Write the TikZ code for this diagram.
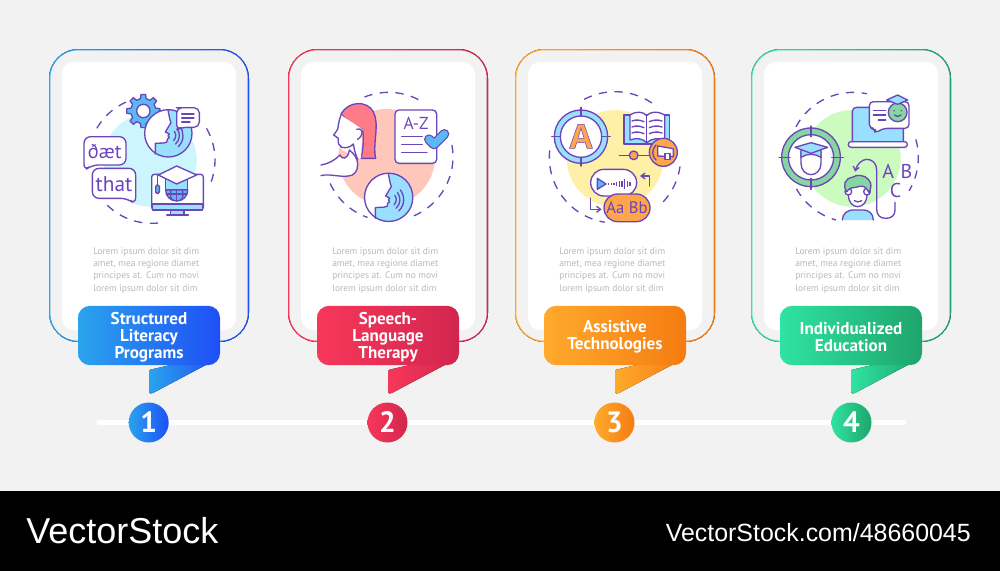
\documentclass[tikz,border=0pt]{standalone}
\usepackage{fontspec}
\setmainfont{PT Sans}
\newfontfamily\logofont{Liberation Sans}
\newfontfamily\iconfont{PT Sans}
\newfontfamily\outlinefont[FakeBold=1.6]{Open Sans}
\usetikzlibrary{arrows.meta,calc}
\definecolor{pagebg}{HTML}{F2F2F2}
\definecolor{lp}{HTML}{6B46B9}
\definecolor{bl}{HTML}{99DFFF}
\definecolor{gearb}{HTML}{5AB8F5}
\definecolor{blobb}{HTML}{CCF5FD}
\definecolor{blobr}{HTML}{FFC6BC}
\definecolor{bloby}{HTML}{FFF0A8}
\definecolor{blobg}{HTML}{CCFBC0}
\definecolor{hair}{HTML}{FF7B87}
\definecolor{org}{HTML}{FFA64D}
\definecolor{grn}{HTML}{86D6A0}
\definecolor{loremc}{HTML}{B9B9B9}
\definecolor{aA}{HTML}{2AA4EC}\definecolor{aB}{HTML}{1F4FF6}
\definecolor{bA}{HTML}{F7375A}\definecolor{bB}{HTML}{D2264F}
\definecolor{cA}{HTML}{FFAA2C}\definecolor{cB}{HTML}{F57C12}
\definecolor{dA}{HTML}{2FE3A2}\definecolor{dB}{HTML}{1EA56C}
\tikzset{
 ic/.style={draw=lp,line width=1pt,line join=round,line cap=round},
 dashc/.style={draw=lp,line width=1pt,dash pattern=on 6.2pt off 5.6pt},
 labelbox/.style={rounded corners=9pt,minimum width=106.5pt,minimum height=44.5pt,inner sep=0pt},
 labeltext/.style={inner sep=0pt,align=center,text=white,font=\bfseries\fontsize{12.8pt}{12.75pt}\selectfont},
 numdot/.style={circle,minimum size=30pt,inner sep=0pt,text=white,font=\bfseries\fontsize{22pt}{24pt}\selectfont},
 lorem/.style={anchor=north west,inner sep=0pt,align=left,text=loremc,font=\fontsize{7.1pt}{9.15pt}\selectfont},
 zoomed/.style={x=0.25pt,y=-0.25pt},
 ictext/.style={text=lp,inner sep=0pt,font=\iconfont}
}
\newcommand{\dasharc}[5]{\draw[dashc] (#1,#2) ++({-(#4)}:#3) arc[start angle={-(#4)},end angle={-(#5)},radius=#3];}
\newcommand{\cardblock}[7]{%
 \fill[left color=#2,right color=#3,rounded corners=22pt] (#4,49) rectangle ++(200,293);
 \fill[pagebg,rounded corners=21pt] (#4+1.3,50.3) rectangle (#4+198.7,340.7);
 \fill[white,rounded corners=9pt] (#4+13,62) rectangle (#4+187,330);
 \node[lorem] (lorem#1) at (#4+44,247.5) {Lorem ipsum dolor sit dim\\amet, mea regione diamet\\principes at. Cum no movi\\lorem ipsum dolor sit dim};
 \fill[left color=#2,right color=#3,rounded corners=1pt] (#4+100,370) -- (#4+126,364) -- (#4+170,358) -- (#4+103,393.5) -- (#4+100,393.5) -- cycle;
 \node[labelbox,left color=#2,right color=#3] (label#1) at (#4+100,335.5) {};
 \node[labeltext] (labeltext#1) at (#4+100,337) {#6};
 \node[numdot,left color=#2,right color=#3] (num#1) at (#4+#5,422.5) {#7};
}
\newcommand{\speechface}[4]{% x y r-scale waves
 \begin{scope}[shift={(#1,#2)},scale=#3]
 \fill[white] (0,0) circle[radius=71];
 \begin{scope}
 \clip (0,0) circle[radius=71];
 \fill[bl] (-1,-72) .. controls (2,-55) and (4,-40) .. (8,-32) -- (-9,-4) -- (3,2) -- (-1,8) -- (3,12) -- (-3,18) .. controls (0,26) and (-6,28) .. (-14,29) -- (-39,30) -- (-39,75) -- (80,75) -- (80,-72) -- cycle;
 \end{scope}
 \draw[ic] (-1,-70) .. controls (2,-55) and (4,-40) .. (8,-32) -- (-9,-4) -- (3,2) -- (-1,8) -- (3,12) -- (-3,18) .. controls (0,26) and (-6,28) .. (-14,29) -- (-39,30) -- (-39,62);
 \draw[ic] (0,0) circle[radius=71];
 \draw[ic] (18,-6) .. controls (24,2) and (24,12) .. (16,22);
 \draw[ic] (26,-14) .. controls (36,0) and (36,18) .. (22,32);
 \draw[ic] (34,-22) .. controls (48,-4) and (48,22) .. (30,40);
 \end{scope}
}
\begin{document}
\begin{tikzpicture}[x=0.75pt,y=-0.75pt]
\useasboundingbox (0,0) rectangle (1000,571);
\fill[pagebg] (0,0) rectangle (1000,491);
\fill[black] (0,491) rectangle (1000,571);
\coordinate (railstart) at (99,422.5);
\coordinate (railend) at (904,422.5);
\draw[white,line width=3.8pt,line cap=round] (railstart) -- (railend);
\cardblock{a}{aA}{aB}{49}{99.7}{Structured\\Literacy\\Programs}{1}
\cardblock{b}{bA}{bB}{288}{99.5}{Speech-\\Language\\Therapy}{2}
\cardblock{c}{cA}{cB}{515}{99.5}{Assistive\\Technologies}{3}
\cardblock{d}{dA}{dB}{751}{100.5}{Individualized\\Education}{4}

% ---------- icon 1
\begin{scope}[shift={(40,40)},zoomed]
 \fill[blobb] (330,360) circle[radius=140];
 \dasharc{335}{360}{190}{114}{153}
 \dasharc{335}{360}{190}{30}{-20}
 \dasharc{335}{360}{190}{225.6}{281}
 \path[ic,fill=gearb,shift={(310,213)}] (-13:38) \foreach \a in {0,45,...,315}{ -- ({\a-13}:38) -- ({\a-8}:50) -- ({\a+8}:50) -- ({\a+13}:38) } -- cycle;
 \draw[ic,fill=white] (310,213) circle[radius=20];
 \speechface{385}{280}{1}{}
 \draw[ic,fill=white,rounded corners=4pt] (425,203) -- (478,203) -- (478,262) -- (425,262) -- (410,270) -- (410,203) -- cycle;
 \draw[ic] (425,222) -- (462,222) (425,234) -- (462,234) (425,246) -- (450,246);
 \draw[ic,fill=white,rounded corners=5pt] (132,290) -- (258,290) -- (258,375) -- (155,375) -- (132,393) -- cycle;
 \node[ictext,font=\iconfont\fontsize{15pt}{16pt}\selectfont] (ipa) at (194,334) {ðæt};
 \draw[ic,fill=white,rounded corners=5pt] (157,385) -- (287,385) -- (287,493) -- (262,475) -- (157,475) -- cycle;
 \node[ictext,font=\iconfont\fontsize{16pt}{18pt}\selectfont] (that) at (222,431) {that};
 % monitor
 \draw[ic,fill=white,rounded corners=2pt] (335,403) rectangle (490,510);
 \draw[ic,fill=bl] (337,492) rectangle (488,510);
 \draw[ic,fill=bl] (392,510) rectangle (432,525);
 \draw[ic] (380,525) -- (445,525);
 \draw[ic,fill=bl] (377,450) -- (377,415) -- (443,415) -- (443,450) -- cycle;
 \draw[ic,fill=gearb] (377,450) -- (443,450) .. controls (443,470) and (428,483) .. (410,483) .. controls (392,483) and (377,470) .. (377,450) -- cycle;
 \draw[ic] (379,462) -- (441,462) (410,450) -- (410,483);
 \draw[ic] (393,450) .. controls (388,465) and (392,478) .. (400,481) (427,450) .. controls (432,465) and (428,478) .. (420,481);
 \draw[ic,fill=white] (410,378) -- (470,405) -- (410,432) -- (355,405) -- cycle;
 \draw[ic] (352,405) -- (352,435);
 \draw[ic,fill=gearb,rounded corners=1pt] (347,435) rectangle (358,460);
\end{scope}

% ---------- icon 2
\begin{scope}[shift={(285,70)},zoomed]
 \fill[blobr] (305,262) circle[radius=145];
 \dasharc{311}{260}{193}{112}{58}
 \dasharc{311}{260}{193}{10.5}{-68.7}
 \dasharc{311}{260}{193}{204.6}{250.8}
 \draw[ic,fill=hair] (168,132) .. controls (190,93) and (245,90) .. (265,125) .. controls (285,165) and (262,220) .. (272,265) -- (228,265) .. controls (234,240) and (238,200) .. (232,178) .. controls (215,175) and (195,160) .. (168,132) -- cycle;
 \fill[white] (168,135) -- (232,178) -- (228,265) -- (215,265) -- (170,238) -- (146,195) -- cycle;
 \draw[ic,fill=white] (168,135) .. controls (160,155) and (160,170) .. (158,178) -- (146,195) -- (160,205) .. controls (158,220) and (162,228) .. (170,232) .. controls (185,235) and (195,232) .. (205,222) .. controls (208,240) and (212,255) .. (218,268);
 \draw[ic] (215,178) .. controls (235,172) and (238,195) .. (218,208);
 \draw[ic,fill=white] (108,285) .. controls (130,282) and (150,270) .. (165,255) .. controls (170,268) and (188,272) .. (193,240) .. controls (205,250) and (218,262) .. (218,285) .. controls (218,305) and (205,318) .. (190,318) .. controls (165,322) and (130,310) .. (108,317);
 \draw[ic,fill=white,rounded corners=3pt] (330,120) rectangle (455,280);
 \node[ictext,font=\iconfont\fontsize{13pt}{14pt}\selectfont] (az) at (393,160) {A-Z};
 \draw[ic] (350,200) -- (412,200) (350,224) -- (412,224) (350,248) -- (426,248);
 \draw[draw=lp,line width=7.5pt,line cap=round,line join=round] (432,208) -- (447,223) -- (478,192);
 \draw[draw=gearb,line width=5.5pt,line cap=round,line join=round] (432,208) -- (447,223) -- (478,192);
 \speechface{311}{382}{1.02}{}
\end{scope}

% ---------- icon 3
\begin{scope}[shift={(530,70)},zoomed]
 \fill[bloby] (255,265) circle[radius=145];
 \dasharc{255}{262}{197}{118}{52.6}
 \dasharc{255}{262}{197}{174}{261}
 \dasharc{255}{262}{197}{-8}{-49}
 \draw[ic,fill=bl] (153,200) circle[radius=80];
 \draw[ic,fill=white] (153,200) circle[radius=62];
 \draw[ic] (153,112) -- (153,138) (153,262) -- (153,288) (65,200) -- (91,200) (215,200) -- (241,200);
 \node[inner sep=0pt] (biga) at (153,199) {\outlinefont\bfseries\fontsize{25pt}{25pt}\selectfont\special{pdf:bcolor [1 0.65 0.3] [0.42 0.275 0.725]}A\special{pdf:ecolor}};
 % book
 \draw[ic,fill=bl] (282,135) -- (418,135) -- (418,222) -- (282,222) -- cycle;
 \draw[ic,fill=white] (300,135) .. controls (320,122) and (340,125) .. (350,137) .. controls (360,125) and (382,122) .. (404,135) -- (404,210) .. controls (385,203) and (365,205) .. (350,218) .. controls (338,205) and (318,203) .. (300,210) -- cycle;
 \draw[ic] (350,137) -- (350,218);
 \draw[ic] (306,153) .. controls (318,148) and (330,150) .. (342,155) (306,171) .. controls (318,166) and (330,168) .. (342,173) (306,189) .. controls (318,184) and (330,186) .. (342,191);
 \draw[ic] (358,155) .. controls (370,150) and (382,148) .. (396,153) (358,173) .. controls (370,168) and (382,166) .. (396,171) (358,191) .. controls (370,186) and (382,184) .. (396,189);
 \draw[ic] (268,256) -- (360,256);
 \draw[ic,fill=org] (311,256) circle[radius=13];
 \draw[ic,fill=org] (400,247) circle[radius=42];
 \draw[ic] (378,225) .. controls (365,238) and (365,258) .. (378,270);
 \draw[ic,fill=white] (383,228) -- (430,236) -- (430,260) -- (383,258) -- cycle;
 \draw[ic,fill=white] (405,250) rectangle (420,268);
 % pills
 \draw[ic,fill=white,rounded corners=10pt] (182,298) rectangle (320,378);
 \draw[ic,fill=gearb] (202,325) -- (228,342) -- (202,358) -- cycle;
 \foreach \bx/\bh in {236/2,244/3,252/4,260/5,268/8,276/10,284/14,292/8,300/5}{
   \draw[draw=lp,line width=1pt] (\bx,342-\bh) -- (\bx,342+\bh);
 }
 \draw[ic,-{Straight Barb[length=3pt,width=4.5pt]}] (358,348) -- (358,318) -- (330,318);
 \draw[ic,fill=org,rounded corners=10.3pt] (222,372) rectangle (360,455);
 \node[ictext,font=\iconfont\fontsize{12.5pt}{14pt}\selectfont] (aabb) at (291,414) {Aa Bb};
 \draw[ic,-{Straight Barb[length=3pt,width=4.5pt]}] (182,385) -- (182,418) -- (215,418);
\end{scope}

% ---------- icon 4
\begin{scope}[shift={(765,70)},zoomed]
 \fill[blobg] (262,265) circle[radius=145];
 \dasharc{265}{262}{195}{152}{78}
 \dasharc{265}{262}{195}{16}{-31}
 \dasharc{265}{262}{195}{209}{254.6}
 \draw[ic,fill=grn] (138,262) circle[radius=88];
 \draw[ic,fill=white] (138,262) circle[radius=68];
 \draw[ic] (138,168) -- (138,200) (138,325) -- (138,358) (42,262) -- (75,262) (200,262) -- (235,262);
 \draw[ic,fill=white] (108,245) -- (108,280) .. controls (108,300) and (122,314) .. (138,314) .. controls (154,314) and (168,300) .. (168,280) -- (168,245) -- cycle;
 \draw[ic,fill=bl] (108,240) -- (108,262) .. controls (125,250) and (150,250) .. (168,262) -- (168,240) -- cycle;
 \draw[ic,fill=bl] (90,232) -- (138,218) -- (188,232) -- (138,250) -- cycle;
 % laptop
 \draw[ic,fill=bl,rounded corners=3pt] (262,215) -- (262,112) -- (415,112) -- (415,215);
 \draw[ic,fill=white,rounded corners=2pt] (250,215) rectangle (427,232);
 \draw[ic,fill=white,rounded corners=3pt] (313,95) -- (432,95) -- (432,175) -- (355,175) -- (330,190) -- (330,175) -- (313,175) -- cycle;
 \draw[ic] (325,122) -- (362,122) (325,135) -- (362,135) (340,150) -- (362,150);
 \draw[ic,fill=grn] (398,127) circle[radius=28];
 \draw[ic] (388,135) .. controls (393,141) and (403,141) .. (408,135);
 \fill[lp] (387,122) circle[radius=2.5] (409,122) circle[radius=2.5];
 \draw[ic,fill=bl] (365,90) -- (398,75) -- (428,90) -- (398,103) -- cycle;
 % boy
 \draw[ic,fill=bl] (232,450) .. controls (232,430) and (250,420) .. (262,420) -- (296,420) .. controls (310,420) and (325,430) .. (325,450);
 \draw[ic,fill=white] (250,375) .. controls (250,395) and (262,410) .. (278,410) .. controls (294,410) and (306,395) .. (306,375) -- (306,345) -- (250,345) -- cycle;
 \draw[ic,fill=white] (250,365) circle[radius=10] (306,365) circle[radius=10];
 \draw[ic,fill=grn] (245,365) .. controls (232,345) and (240,325) .. (262,322) .. controls (275,312) and (300,315) .. (310,328) .. controls (322,340) and (318,355) .. (312,368) .. controls (305,352) and (295,345) .. (280,350) .. controls (265,355) and (255,350) .. (245,365) -- cycle;
 \draw[ic] (268,392) .. controls (275,397) and (283,397) .. (290,392);
 \draw[ic,-{Straight Barb[length=3pt,width=4.5pt]}] (390,397) -- (390,420) .. controls (390,438) and (378,445) .. (362,445) .. controls (345,445) and (335,435) .. (335,418) -- (335,300) .. controls (335,280) and (322,268) .. (305,268) .. controls (290,268) and (275,285) .. (270,305);
 \node[ictext,font=\iconfont\fontsize{15pt}{17pt}\selectfont] (la) at (370,305) {A};
 \node[ictext,font=\iconfont\fontsize{15pt}{17pt}\selectfont] (lb) at (424,305) {B};
 \node[ictext,font=\iconfont\fontsize{15pt}{17pt}\selectfont] (lc) at (392,362) {C};
\end{scope}

\node[anchor=west,inner sep=0pt,text=white,font=\logofont\fontsize{27pt}{28pt}\selectfont] (logo) at (26,531) {VectorStock};
\node[anchor=east,inner sep=0pt,text=white,font=\logofont\fontsize{18.7pt}{19pt}\selectfont] (url) at (971,533) {VectorStock.com/48660045};
\end{tikzpicture}
\end{document}
